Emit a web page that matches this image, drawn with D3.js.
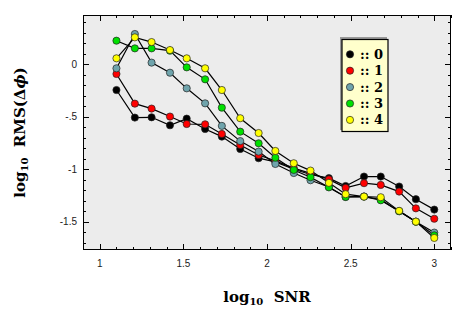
<!DOCTYPE html>
<html><head><meta charset="utf-8">
<script src="https://cdn.jsdelivr.net/npm/d3@7"></script>
<style>body{margin:0;background:#fff}</style>
</head><body>
<svg id="c" width="463" height="322"></svg>
<script>
const xValues = [1.10,1.21,1.31,1.42,1.52,1.63,1.73,1.84,1.95,2.05,2.16,2.26,2.37,2.47,2.58,2.68,2.79,2.89,3.00];
const series0 = [-0.245,-0.508,-0.505,-0.581,-0.518,-0.616,-0.689,-0.807,-0.895,-0.93,-1.00,-1.05,-1.085,-1.16,-1.07,-1.07,-1.165,-1.286,-1.385];
const series1 = [-0.092,-0.375,-0.422,-0.498,-0.569,-0.572,-0.664,-0.769,-0.864,-0.92,-0.99,-1.04,-1.097,-1.178,-1.133,-1.15,-1.213,-1.373,-1.472];
const series2 = [-0.038,0.289,0.016,-0.08,-0.229,-0.372,-0.587,-0.732,-0.832,-0.95,-1.036,-1.105,-1.17,-1.265,-1.26,-1.29,-1.40,-1.50,-1.604];
const series3 = [0.225,0.152,0.152,0.13,-0.029,-0.143,-0.413,-0.642,-0.753,-0.89,-1.007,-1.076,-1.173,-1.264,-1.261,-1.296,-1.40,-1.50,-1.63];
const series4 = [0.057,0.257,0.212,0.136,0.057,-0.038,-0.245,-0.514,-0.655,-0.826,-0.943,-1.013,-1.13,-1.238,-1.261,-1.267,-1.397,-1.50,-1.655];
const seriesNames = ["0","1","2","3","4"];
const seriesColors = ["#000000","#ff0000","#6fa4ac","#00e000","#ffff00"];
const xTickValues = [1,1.5,2,2.5,3];
const xTickLabels = ["1","1.5","2","2.5","3"];
const yTickValues = [0,-0.5,-1,-1.5];
const yTickLabels = ["0","-.5","-1","-1.5"];

const allSeries = [series0,series1,series2,series3,series4];
const svg = d3.select("#c");
const L=83, R=451, T=15, B=250;
const x = d3.scaleLinear().domain([0.9,3.1]).range([L,R]);
const y = d3.scaleLinear().domain([-1.77,0.47]).range([B,T]);

svg.append("rect").attr("x",L).attr("y",T).attr("width",R-L).attr("height",B-T).attr("fill","#ececec");

const xMinor = d3.range(9,32).map(d=>d/10);
const yMinor = d3.range(-17,5).map(d=>d/10);
const isMajor = (v)=>Math.abs(v*2-Math.round(v*2))<1e-6;
const tk = svg.append("g").attr("stroke","#000").attr("stroke-width",1);
xMinor.forEach(v=>{
  const len = isMajor(v)?6:3; const px=Math.round(x(v))+0.5;
  tk.append("line").attr("x1",px).attr("x2",px).attr("y1",B).attr("y2",B-len);
  tk.append("line").attr("x1",px).attr("x2",px).attr("y1",T).attr("y2",T+len);
});
yMinor.forEach(v=>{
  const len = isMajor(v)?6:3; const py=Math.round(y(v))+0.5;
  tk.append("line").attr("y1",py).attr("y2",py).attr("x1",L).attr("x2",L+len);
  tk.append("line").attr("y1",py).attr("y2",py).attr("x1",R).attr("x2",R-len);
});
svg.append("rect").attr("x",L+0.5).attr("y",T+0.5).attr("width",R-L-1).attr("height",B-T-1)
  .attr("fill","none").attr("stroke","#000").attr("stroke-width",1);

const lab = svg.append("g").attr("font-family","Liberation Sans, Arial, sans-serif").attr("font-size",10).attr("fill","#222");
xTickValues.forEach((v,i)=>lab.append("text").attr("x",x(v)).attr("y",B+17).attr("text-anchor","middle").text(xTickLabels[i]));
yTickValues.forEach((v,i)=>lab.append("text").attr("x",L-6).attr("y",y(v)+3.5).attr("text-anchor","end").text(yTickLabels[i]));

const line = d3.line().x((d,i)=>x(xValues[i])).y(d=>y(d));
allSeries.forEach(s=>svg.append("path").attr("d",line(s)).attr("fill","none").attr("stroke","#000").attr("stroke-width",1.2));
allSeries.forEach((s,k)=>{
  svg.append("g").selectAll("circle").data(s).join("circle")
    .attr("cx",(d,i)=>x(xValues[i])).attr("cy",d=>y(d)).attr("r",3.6)
    .attr("fill",seriesColors[k]).attr("stroke","#222").attr("stroke-width",0.7);
});

// legend
const lg = svg.append("g");
lg.append("rect").attr("x",340).attr("y",37).attr("width",47).attr("height",93).attr("fill","#999");
lg.append("rect").attr("x",342).attr("y",39.5).attr("width",46).attr("height",92).attr("fill","#ffffcc").attr("stroke","#000").attr("stroke-width",1.2);
seriesNames.forEach((n,i)=>{
  const cy = 54.3 + i*16.4;
  lg.append("circle").attr("cx",350).attr("cy",cy).attr("r",3.6).attr("fill",seriesColors[i]).attr("stroke","#222").attr("stroke-width",0.7);
  lg.append("text").attr("x",360).attr("y",cy+4.5).attr("font-family","DejaVu Serif, serif").attr("font-weight","bold").attr("font-size",13).text(":: "+n);
});

// axis titles
const tf = "DejaVu Serif, serif";
const xt = svg.append("text").attr("x",(L+R)/2).attr("y",302).attr("text-anchor","middle")
  .attr("font-family",tf).attr("font-weight","bold").attr("font-size",15);
xt.append("tspan").text("log");
xt.append("tspan").attr("font-size",10).attr("dy",3).text("10");
xt.append("tspan").attr("dy",-3).text("\u00a0\u00a0SNR");
const yt = svg.append("text").attr("transform",`translate(25,${(T+B)/2}) rotate(-90)`).attr("text-anchor","middle")
  .attr("font-family",tf).attr("font-weight","bold").attr("font-size",15);
yt.append("tspan").text("log");
yt.append("tspan").attr("font-size",10).attr("dy",3).text("10");
yt.append("tspan").attr("dy",-3).text("\u00a0\u00a0RMS(\u0394");
yt.append("tspan").attr("font-style","italic").text("\u03d5");
yt.append("tspan").text(")");
</script>
</body></html>
